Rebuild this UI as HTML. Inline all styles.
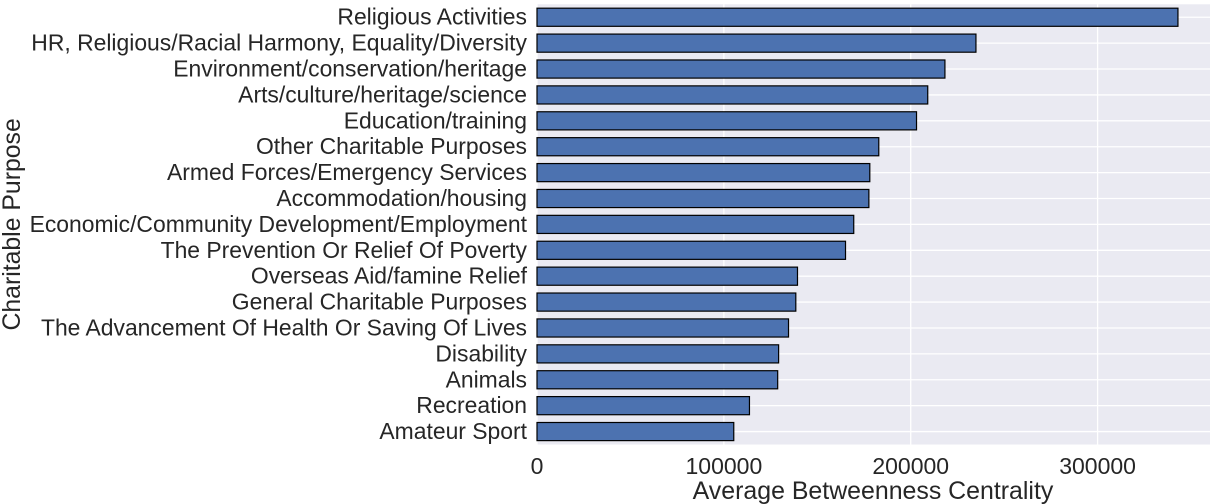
<!DOCTYPE html>
<html><head><meta charset="utf-8"><style>
body{margin:0;background:#fff;}
svg{display:block;font-family:"Liberation Sans",Arial,sans-serif;}
</style></head><body>
<svg id="chart" width="1224" height="504"></svg>
<script>
const categories=["Religious Activities","HR, Religious/Racial Harmony, Equality/Diversity","Environment/conservation/heritage","Arts/culture/heritage/science","Education/training","Other Charitable Purposes","Armed Forces/Emergency Services","Accommodation/housing","Economic/Community Development/Employment","The Prevention Or Relief Of Poverty","Overseas Aid/famine Relief","General Charitable Purposes","The Advancement Of Health Or Saving Of Lives","Disability","Animals","Recreation","Amateur Sport"];
const values=[343000,234900,218300,209100,203100,182900,178100,177600,169500,165100,139400,138500,134600,129300,128800,113700,105300];
const xTicks=[0,100000,200000,300000];
const xTickLabels=["0","100000","200000","300000"];

const NS="http://www.w3.org/2000/svg";
const svg=document.getElementById('chart');
const L=537,R=1210,T=4.3,B=444.5;
const xmax=Math.max(...values)*1.05;
const n=categories.length;
const step=(B-T)/n;
function xs(v){return L+(v/xmax)*(R-L);}
function yc(i){return T+step*(i+0.5);}
function mk(tag,attrs){const e=document.createElementNS(NS,tag);for(const k in attrs)e.setAttribute(k,attrs[k]);svg.appendChild(e);return e;}

const bg=mk('rect',{x:L,y:T,width:R-L,height:B-T,fill:'#EAEAF2'});



xTicks.forEach((t,i)=>{
  const g=mk('line',{x1:xs(t),x2:xs(t),y1:T,y2:B,stroke:'#fff','stroke-width':1.3});
  
  
  const lb=mk('text',{x:xs(t),y:474,'text-anchor':'middle','font-size':23,fill:'#262626'});
  lb.textContent=xTickLabels[i];
  
  
});
categories.forEach((c,i)=>{
  const g=mk('line',{x1:L,x2:R,y1:yc(i),y2:yc(i),stroke:'#fff','stroke-width':1.3});
  
  
});
categories.forEach((c,i)=>{
  const h=step*0.7;
  const b=mk('rect',{x:xs(0),y:yc(i)-h/2,width:xs(values[i])-xs(0),height:h,fill:'#4C72B0',stroke:'#000','stroke-width':1.2});
  
  
  const lb=mk('text',{x:527,y:yc(i)+7.5,'text-anchor':'end','font-size':22.9,fill:'#262626'});
  lb.textContent=c;
  
  
});
const xt=mk('text',{x:873,y:499,'text-anchor':'middle','font-size':24.9,fill:'#262626'});
xt.textContent='Average Betweenness Centrality';


const yt=mk('text',{x:0,y:0,'text-anchor':'middle','font-size':24.8,fill:'#262626',transform:'translate(20,'+((T+B)/2)+') rotate(-90)'});
yt.textContent='Charitable Purpose';


</script>
</body></html>
